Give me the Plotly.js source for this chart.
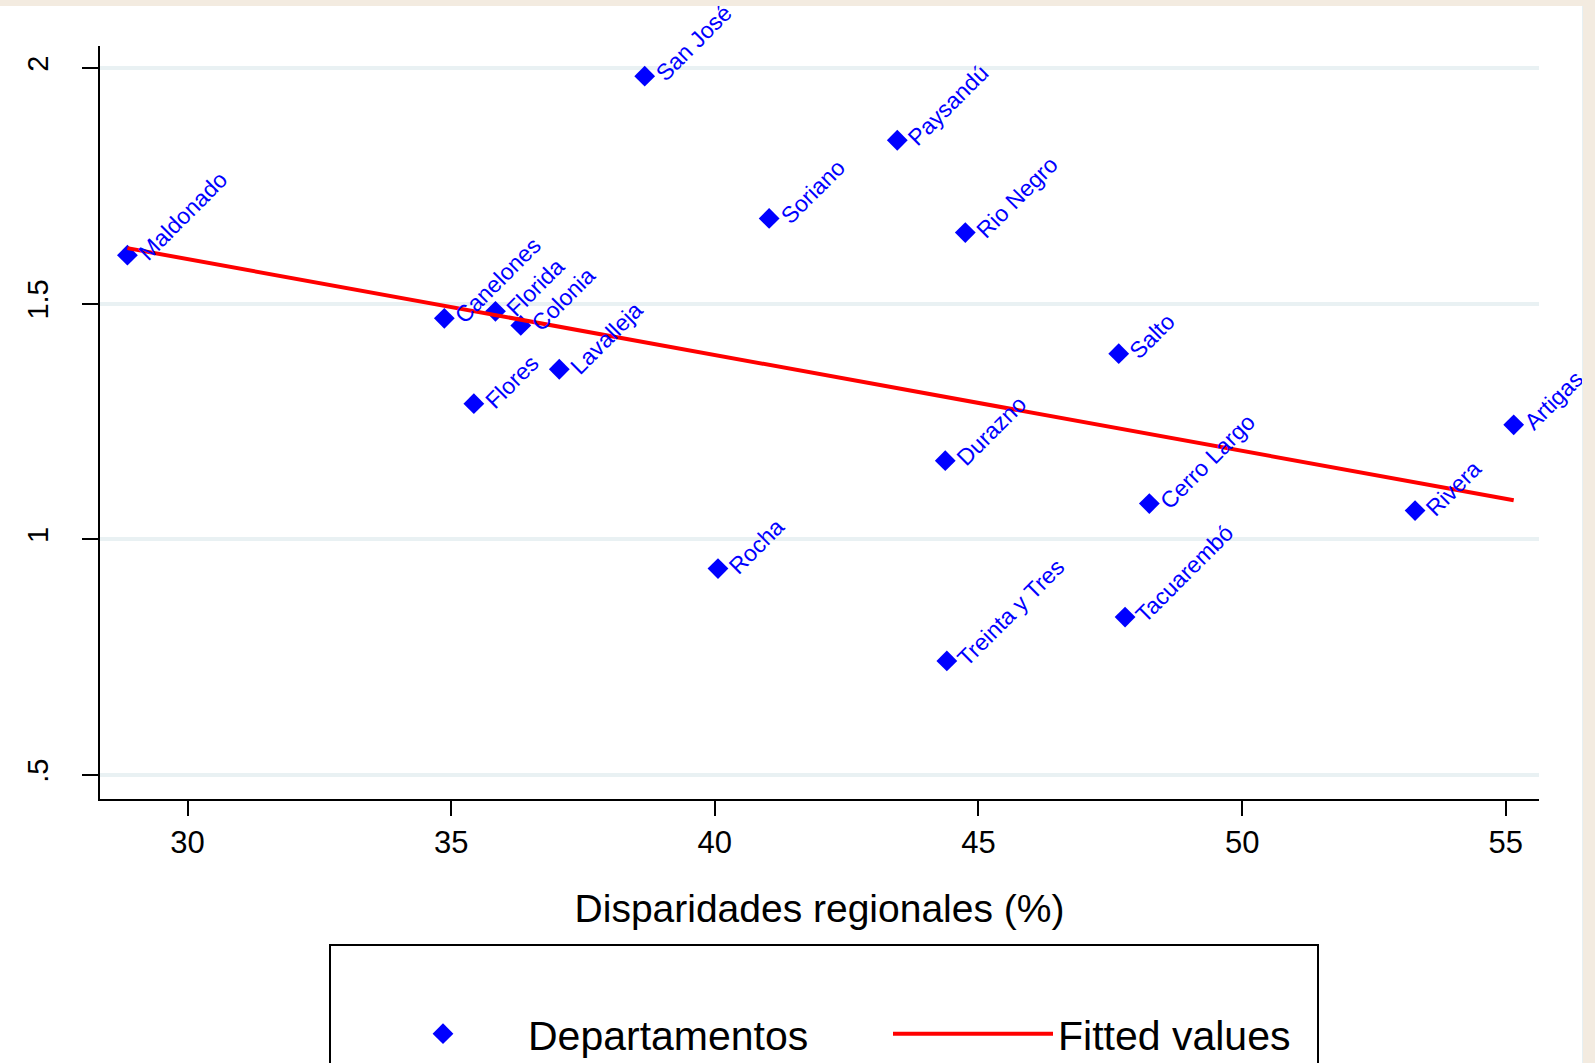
<!DOCTYPE html>
<html><head><meta charset="utf-8">
<script src="https://cdn.plot.ly/plotly-3.0.1.min.js"></script>
<style>
html,body{margin:0;padding:0;background:#f3ebe0;width:1595px;height:1063px;overflow:hidden;}
#wrap{position:absolute;left:0;top:6px;width:1582px;height:1057px;background:#fff;border-right:1px solid #e6f0f3;overflow:hidden;}
#chart{width:1582px;height:1150px;}
</style></head><body><div id="wrap"><div id="chart"></div></div>
<script>
const departamentos = ['Maldonado','San José','Paysandú','Soriano','Rio Negro','Canelones','Florida','Colonia','Lavalleja','Flores','Salto','Artigas','Durazno','Cerro Largo','Rivera','Rocha','Tacuarembó','Treinta y Tres'];
const disparidades = [28.86, 38.67, 43.46, 41.03, 44.75, 34.87, 35.84, 36.32, 37.05, 35.43, 47.66, 55.15, 44.37, 48.24, 53.28, 40.06, 47.78, 44.40];
const valores = [1.603, 1.983, 1.847, 1.681, 1.651, 1.469, 1.484, 1.454, 1.361, 1.288, 1.394, 1.243, 1.167, 1.076, 1.061, 0.938, 0.835, 0.742];
const fittedX = [28.86, 55.15];
const fittedY = [1.618, 1.083];
const xTickVals = [30, 35, 40, 45, 50, 55];
const yTickVals = [0.5, 1, 1.5, 2];
const yTickText = ['.5', '1', '1.5', '2'];
const xTitle = 'Disparidades regionales (%)';

const FONT = '"Liberation Sans", Arial, Helvetica, sans-serif';
const BLUE = '#0000ff';

const traces = [
  {type:'scatter', mode:'markers', name:'Departamentos', x:disparidades, y:valores,
   text:departamentos, marker:{symbol:'diamond', size:16, color:BLUE}},
  {type:'scatter', mode:'lines', name:'Fitted values', x:fittedX, y:fittedY,
   line:{color:'#ff0000', width:4}}
];

const annotations = departamentos.map((d,i)=>({
  x:disparidades[i], y:valores[i], xref:'x', yref:'y', text:d, showarrow:false,
  textangle:-45, xanchor:'left', yanchor:'bottom', xshift:3, yshift:-13,
  font:{family:FONT, size:23, color:BLUE}
}));

const layout = {
  width:1582, height:1150,
  margin:{l:100, r:43, t:40, b:357},
  paper_bgcolor:'rgba(0,0,0,0)', plot_bgcolor:'#ffffff',
  font:{family:FONT, color:'#000'},
  showlegend:true,
  legend:{orientation:'h', x:(358-100)/1439, xanchor:'left', y:(793-1028)/753, yanchor:'middle',
    font:{family:FONT, size:41, color:'#000'}, itemwidth:160, entrywidth:355, entrywidthmode:'pixels',
    bgcolor:'rgba(0,0,0,0)', borderwidth:0},
  xaxis:{range:[28.34, 55.63], tickvals:xTickVals, ticks:'outside', ticklen:15, tickwidth:2, tickcolor:'#000',
    showline:true, linecolor:'#000', linewidth:2, showgrid:false, zeroline:false,
    tickfont:{family:FONT, size:31, color:'#000'},
    title:{text:xTitle, font:{family:FONT, size:39, color:'#000'}, standoff:35}},
  yaxis:{range:[0.449, 2.047], tickvals:yTickVals, ticktext:yTickText, ticks:'outside', ticklen:16, tickwidth:2, tickcolor:'#000',
    showline:true, linecolor:'#000', linewidth:2, showgrid:true, gridcolor:'#e9f1f3', gridwidth:4, zeroline:false,
    tickangle:-90, tickfont:{family:FONT, size:29, color:'#000'}, ticklabelstandoff:22},
  shapes:[{type:'rect', xref:'paper', yref:'paper', x0:(330-100)/1439, x1:(1318-100)/1439,
    y0:(793-939)/753, y1:(793-1075)/753, line:{color:'#000', width:2}, fillcolor:'rgba(0,0,0,0)'}],
  annotations:annotations
};

Plotly.newPlot('chart', traces, layout, {displayModeBar:false, staticPlot:true});
</script></body></html>
